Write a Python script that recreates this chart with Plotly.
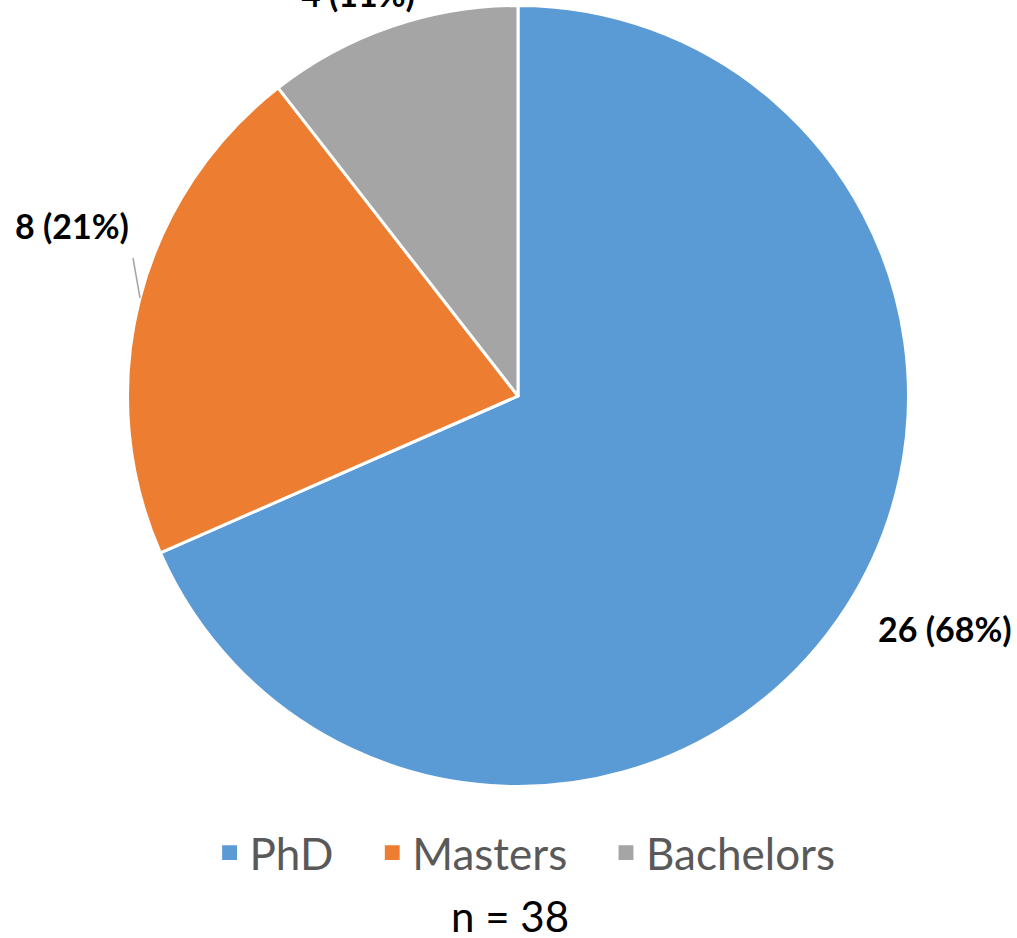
import plotly.graph_objects as go

categories = ["PhD", "Masters", "Bachelors"]
counts = [26, 8, 4]
colors = ["#5B9BD5", "#ED7D31", "#A5A5A5"]
total = sum(counts)

W, H = 1017, 938

# legend entries padded with non-breaking spaces to widen the gaps between items
legend_labels = [c + "\u00a0" * 3 for c in categories]

cx, cy, r = 518, 396, 390.5  # pie placement in pixels
fig = go.Figure(go.Pie(
    labels=legend_labels,
    values=counts,
    sort=False,
    direction="clockwise",
    rotation=0,
    marker=dict(colors=colors, line=dict(color="white", width=3)),
    textinfo="none",
    hoverinfo="skip",
    domain=dict(x=[(cx - r) / W, (cx + r) / W], y=[1 - (cy + r) / H, 1 - (cy - r) / H]),
))

label_pos = {  # pixel positions of the outside labels (x, y from top)
    "PhD": (945, 628),
    "Masters": (72, 226),
    "Bachelors": (358, -6),
}
for cat, cnt in zip(categories, counts):
    px, py = label_pos[cat]
    pct = round(100 * cnt / total)
    fig.add_annotation(
        x=px / W, y=1 - py / H, xref="paper", yref="paper",
        text=f"<b>{cnt} ({pct}%)</b>", showarrow=False,
        xanchor="center", yanchor="middle",
        font=dict(family="Lato", size=34, color="black"),
    )

# leader line for Masters label
fig.add_shape(type="line", xref="paper", yref="paper",
              x0=133 / W, y0=1 - 258 / H, x1=140 / W, y1=1 - 298 / H,
              line=dict(color="#A5A5A5", width=1.5))

fig.add_annotation(
    x=510 / W, y=1 - 916 / H, xref="paper", yref="paper",
    text=f"n = {total}", showarrow=False,
    xanchor="center", yanchor="middle",
    font=dict(family="Lato", size=42, color="black"),
)

fig.update_layout(
    width=W, height=H,
    margin=dict(l=0, r=0, t=0, b=0),
    paper_bgcolor="white", plot_bgcolor="white",
    showlegend=True,
    legend=dict(orientation="h", x=0.533, xanchor="center", y=1 - 853 / H, yanchor="middle",
                font=dict(family="Lato", size=44, color="#595959")),
)

post = (
    "document.body.style.margin='0';"
    "document.querySelectorAll('.legendpoints path').forEach(function(p){"
    "var t=p.getAttribute('transform')||'';p.setAttribute('transform',t+' scale(1.65)');});"
)
fig.write_html("out.html", config={"displayModeBar": False}, post_script=post)
